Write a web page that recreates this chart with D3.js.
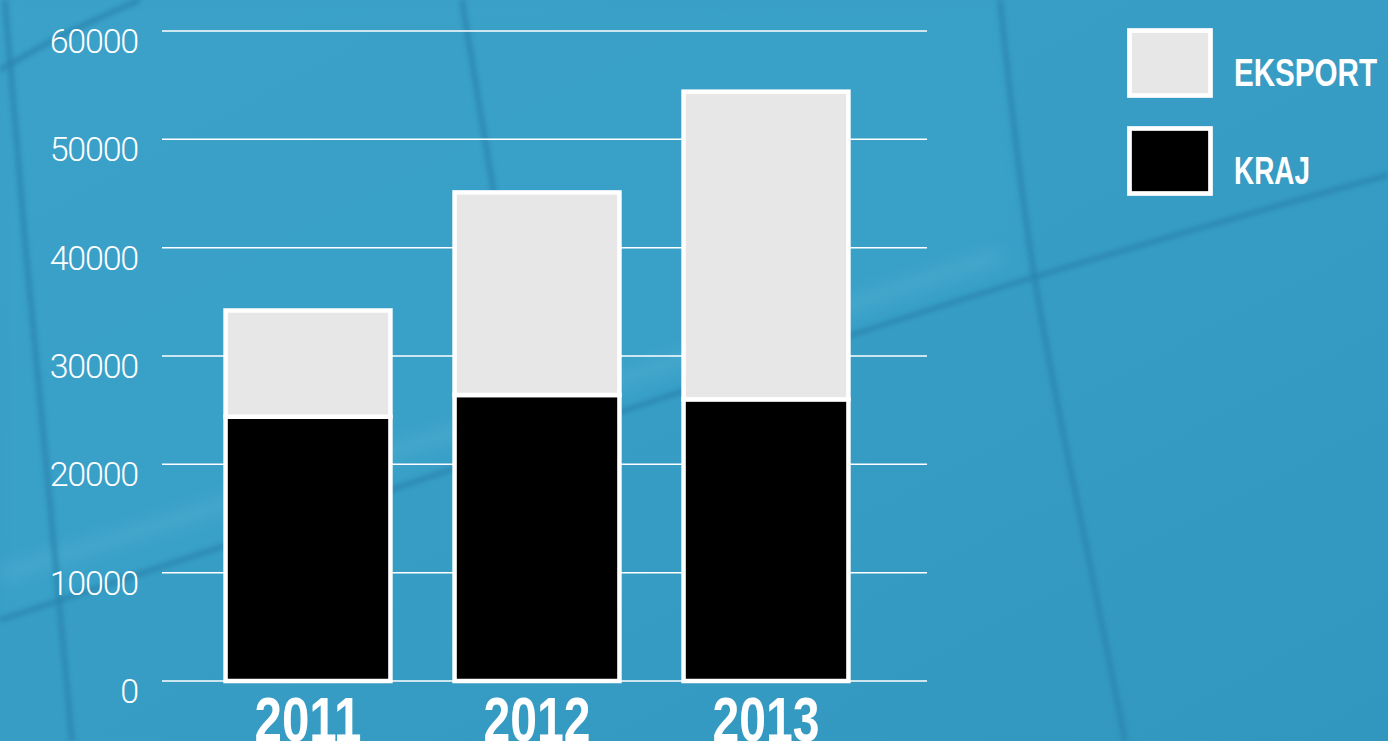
<!DOCTYPE html>
<html>
<head>
<meta charset="utf-8">
<script src="https://cdn.jsdelivr.net/npm/d3@7"></script>
<style>
  html, body { margin: 0; padding: 0; background: #3499c1; overflow: hidden; }
  svg { display: block; }
  .tick-label { font-family: Roboto, sans-serif; font-weight: 300; fill: #fff; }
  .year { font-family: "Liberation Sans Narrow", "Liberation Sans", sans-serif; font-weight: bold; fill: #fff; }
  .legend-text { font-family: "Liberation Sans Narrow", "Liberation Sans", sans-serif; font-weight: bold; fill: #fff; }
</style>
</head>
<body>
<div id="chart"></div>
<script>
// data
var years = ["2011", "2012", "2013"];
var kraj = [24400, 26400, 26000];
var eksport = [9800, 18700, 28400];
var seriesNames = ["KRAJ", "EKSPORT"];
var seriesColors = ["#000000", "#e6e7e6"];
var tickValues = [0, 10000, 20000, 30000, 40000, 50000, 60000];

var width = 1388;
var height = 741;

var svg = d3.select("#chart")
  .append("svg")
  .attr("width", width)
  .attr("height", height);

// background: blue with soft tile lines
var defs = svg.append("defs");
var grad = defs.append("linearGradient")
  .attr("id", "bg")
  .attr("x1", "0").attr("y1", "0")
  .attr("x2", "1").attr("y2", "1");
grad.append("stop").attr("offset", "0").attr("stop-color", "#3a9fc7");
grad.append("stop").attr("offset", "0.5").attr("stop-color", "#379dc5");
grad.append("stop").attr("offset", "1").attr("stop-color", "#3297be");

var blur = defs.append("filter").attr("id", "soft").attr("x", "-20%").attr("y", "-20%").attr("width", "140%").attr("height", "140%");
blur.append("feGaussianBlur").attr("stdDeviation", 2);
var blur2 = defs.append("filter").attr("id", "softer").attr("x", "-20%").attr("y", "-20%").attr("width", "140%").attr("height", "140%");
blur2.append("feGaussianBlur").attr("stdDeviation", 8);

svg.append("rect")
  .attr("width", width)
  .attr("height", height)
  .attr("fill", "url(#bg)");

var bgLayer = svg.append("g").attr("class", "bg-lines");
var line = d3.line().curve(d3.curveBasis);

// lighter tile above the diagonal
bgLayer.append("path")
  .attr("d", "M0,0 L1000,0 L1030,275 L0,620 Z")
  .attr("fill", "#3ea6cc")
  .attr("opacity", 0.35)
  .attr("filter", "url(#softer)");
// light streak just above the diagonal
bgLayer.append("path")
  .attr("d", line([[0, 575], [300, 480], [700, 355], [1000, 255]]))
  .attr("stroke", "#5ab5d6")
  .attr("stroke-width", 14)
  .attr("fill", "none")
  .attr("opacity", 0.45)
  .attr("filter", "url(#softer)");

var darkLines = [
  [[0, 620], [230, 545], [640, 405], [1030, 275], [1388, 175]],
  [[5, 0], [25, 250], [50, 500], [72, 741]],
  [[462, 0], [480, 110], [500, 230]],
  [[1000, 0], [1030, 280], [1090, 560], [1125, 741]],
  [[0, 70], [60, 35], [140, 0]]
];
bgLayer.selectAll("path.dark")
  .data(darkLines)
  .enter()
  .append("path")
  .attr("class", "dark")
  .attr("d", line)
  .attr("stroke", "#2a84ad")
  .attr("stroke-width", 6)
  .attr("fill", "none")
  .attr("opacity", 0.7)
  .attr("filter", "url(#soft)");

// scales
var y = d3.scaleLinear()
  .domain([0, 60000])
  .range([681, 31]);

var x = d3.scaleBand()
  .domain(years)
  .range([193.5, 880.5])
  .paddingInner(0.28)
  .paddingOuter(0.14);

var gridLeft = 162;
var gridRight = 927;

// gridlines
svg.append("g")
  .attr("class", "grid")
  .selectAll("line")
  .data(tickValues)
  .enter()
  .append("line")
  .attr("x1", gridLeft)
  .attr("x2", gridRight)
  .attr("y1", function(d) { return y(d); })
  .attr("y2", function(d) { return y(d); })
  .attr("stroke", "#ffffff")
  .attr("stroke-width", 1.5);

// tick labels
svg.append("g")
  .selectAll("text")
  .data(tickValues)
  .enter()
  .append("text")
  .attr("class", "tick-label")
  .attr("x", 138)
  .attr("y", function(d) { return y(d) + 22; })
  .attr("text-anchor", "end")
  .attr("font-size", 34)
  .attr("letter-spacing", -1.2)
  .text(function(d) { return d; });

// stacked bars
var table = years.map(function(yr, i) {
  return { year: yr, KRAJ: kraj[i], EKSPORT: eksport[i] };
});
var stacked = d3.stack().keys(seriesNames)(table);

svg.append("g")
  .attr("class", "bars")
  .selectAll("g")
  .data(stacked)
  .enter()
  .append("g")
  .attr("fill", function(d, i) { return seriesColors[i]; })
  .selectAll("rect")
  .data(function(d) { return d; })
  .enter()
  .append("rect")
  .attr("x", function(d) { return x(d.data.year); })
  .attr("width", x.bandwidth())
  .attr("y", function(d) { return y(d[1]); })
  .attr("height", function(d) { return y(d[0]) - y(d[1]); })
  .attr("stroke", "#ffffff")
  .attr("stroke-width", 4.5);

// year labels (cut by the bottom edge, as in the original)
svg.append("g")
  .selectAll("text")
  .data(years)
  .enter()
  .append("text")
  .attr("class", "year")
  .attr("x", function(d) { return x(d) + x.bandwidth() / 2; })
  .attr("y", 741)
  .attr("text-anchor", "middle")
  .attr("font-size", 63)
  .attr("textLength", 107)
  .attr("lengthAdjust", "spacingAndGlyphs")
  .text(function(d) { return d; });

// legend (EKSPORT on top)
var legendItems = [
  { name: "EKSPORT", color: seriesColors[1], top: 30.5, textLen: 143 },
  { name: "KRAJ", color: seriesColors[0], top: 128.5, textLen: 76 }
];
var legend = svg.append("g").attr("class", "legend");
legend.selectAll("rect")
  .data(legendItems)
  .enter()
  .append("rect")
  .attr("x", 1129.5)
  .attr("y", function(d) { return d.top; })
  .attr("width", 81)
  .attr("height", 65)
  .attr("fill", function(d) { return d.color; })
  .attr("stroke", "#ffffff")
  .attr("stroke-width", 4.7);
legend.selectAll("text")
  .data(legendItems)
  .enter()
  .append("text")
  .attr("class", "legend-text")
  .attr("x", 1234)
  .attr("y", function(d) { return d.top + 55.5; })
  .attr("font-size", 39)
  .attr("textLength", function(d) { return d.textLen; })
  .attr("lengthAdjust", "spacingAndGlyphs")
  .text(function(d) { return d.name; });
</script>
</body>
</html>
